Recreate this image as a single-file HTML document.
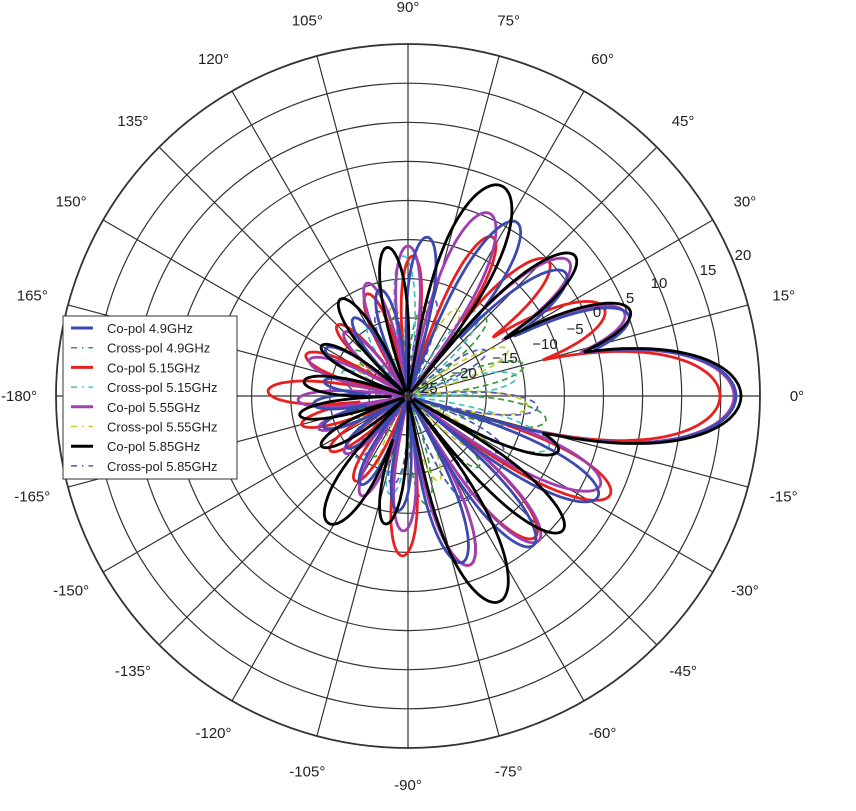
<!DOCTYPE html>
<html><head><meta charset="utf-8">
<style>
html,body{margin:0;padding:0;background:#fff;}
svg{display:block;font-family:"Liberation Sans","DejaVu Sans",sans-serif;}
</style></head>
<body>
<svg id="s" width="856" height="811" viewBox="0 0 856 811" xmlns="http://www.w3.org/2000/svg">
<g id="grid" stroke="#333" stroke-width="1.2" fill="none"></g>
<g id="curves" fill="none"></g>
<g id="labels" font-size="15" fill="#222" text-anchor="middle"></g>
<g id="legend"></g>
</svg>
<script>
var NS="http://www.w3.org/2000/svg",cx=408,cy=396,R=352;
function el(t,a,p){var e=document.createElementNS(NS,t);for(var k in a)e.setAttribute(k,a[k]);p.appendChild(e);return e;}
var g=document.getElementById('grid');
for(var k=1;k<=9;k++)el('circle',{cx:cx,cy:cy,r:39.1*k},g);
el('circle',{cx:cx,cy:cy,r:R,'stroke-width':1.8},g);
for(var a=0;a<180;a+=15){var t=a*Math.PI/180;el('line',{x1:cx-R*Math.cos(t),y1:cy+R*Math.sin(t),x2:cx+R*Math.cos(t),y2:cy-R*Math.sin(t)},g);}
var L=document.getElementById('labels');
for(var a=-165;a<=180;a+=15){var t=a*Math.PI/180;var x=cx+389*Math.cos(t),y=cy-389*Math.sin(t)+5;var e=el('text',{x:x,y:y},L);e.textContent=(a==180?'-180':a)+'°';}
var rl=[[-25,425,393],[-20,464,378],[-15,505,363],[-10,545,349],[-5,575,334],[0,597,317],[5,630,303],[10,659,288],[15,708,275],[20,743,260]];
rl.forEach(function(r){var e=el('text',{x:r[1],y:r[2]},L);e.textContent=r[0]<0?'\u2212'+(-r[0]):r[0];});
function curve(lobes,color,w,dash,ex){var d='';for(var i=0;i<=720;i++){var th=i/2-180;var r=6;lobes.forEach(function(l){var dd=th-l[0];while(dd>180)dd-=360;while(dd<-180)dd+=360;var W=l[2]*1.2;if(Math.abs(dd)<W){var v=l[1]*Math.pow(Math.cos(Math.PI/2*dd/W),ex);if(v>r)r=v;}});
var t=th*Math.PI/180;d+=(i?'L':'M')+(cx+r*Math.cos(t)).toFixed(1)+' '+(cy-r*Math.sin(t)).toFixed(1);}
var p=el('path',{d:d,stroke:color,'stroke-width':w},document.getElementById('curves'));if(dash)p.setAttribute('stroke-dasharray',dash);}
var Cs=[
['#3a4ab0',[[0,328,14],[20,235,9],[38,200,9],[58,205,9],[83,160,8],[105,110,8],[125,95,8],[150,95,8],[170,85,7],[-175,95,7],[-160,90,7],[-140,80,8],[-118,100,8],[-95,115,8],[-72,175,9],[-50,195,9],[-28,215,9]],2.5,null],
['#e82020',[[0,312,14],[24,215,10],[44,195,9],[62,180,8],[88,140,7],[112,110,8],[135,100,8],[158,110,8],[178,140,8],[-165,110,7],[-145,95,8],[-122,100,8],[-92,160,8],[-70,180,9],[-48,190,9],[-26,225,9]],2.5,null],
['#a040b0',[[0,326,14],[21,232,9],[40,210,9],[66,200,10],[90,150,8],[110,120,8],[135,90,8],[160,105,8],[-178,110,7],[-160,95,7],[-138,85,8],[-115,110,8],[-92,135,8],[-70,180,9],[-48,195,9],[-25,212,9]],2.5,null],
['#000000',[[0,333,14],[21,238,9],[40,218,9],[66,230,12],[98,150,8],[125,118,9],[150,100,8],[172,105,8],[-170,110,7],[-150,100,8],[-122,150,11],[-100,130,8],[-66,225,11],[-41,205,9],[-20,160,8]],2.5,null],
['#3a9a3a',[[-10,140,10],[15,120,9],[45,110,9],[80,90,8],[100,80,8],[140,70,9],[-45,100,9],[-80,110,9],[-120,70,9],[-160,60,9]],1.4,'6,4'],
['#40c0c0',[[-20,150,10],[10,110,9],[50,110,9],[92,140,8],[120,80,8],[160,70,9],[-60,120,9],[-100,100,9],[-140,70,9]],1.4,'6,4'],
['#c8c830',[[-5,120,10],[25,110,9],[60,100,9],[100,90,9],[150,60,9],[-35,100,9],[-70,90,9],[-110,80,9],[-150,60,9]],1.4,'6,4'],
['#5555bb',[[-5,130,9],[30,90,9],[75,100,9],[110,90,9],[170,60,9],[-30,110,9],[-60,120,9],[-100,90,9],[-130,80,9]],1.4,'6,4']
];
[4,5,6,7,1,2,0,3].forEach(function(i){var c=Cs[i];curve(c[1],c[0],c[2]+0.3,c[3],c[3]?0.6:0.45);});
var lg=document.getElementById('legend');
el('rect',{x:63,y:316,width:174,height:163,fill:'#fff',stroke:'#333','stroke-width':1},lg);
var names=['Co-pol 4.9GHz','Cross-pol 4.9GHz','Co-pol 5.15GHz','Cross-pol 5.15GHz','Co-pol 5.55GHz','Cross-pol 5.55GHz','Co-pol 5.85GHz','Cross-pol 5.85GHz'];
var cols=['#3a4ab0','#3a9a3a','#e82020','#40c0c0','#a040b0','#c8c830','#000000','#5555bb'];
for(var i=0;i<8;i++){var y=328+i*19.7;var solid=i%2==0;
el('line',{x1:71,y1:y,x2:93,y2:y,stroke:cols[i],'stroke-width':solid?3:1.5,'stroke-dasharray':solid?'none':'6,5,1.5,5'},lg);
var t=el('text',{x:107,y:y+5,'font-size':13,fill:'#222'},lg);t.textContent=names[i];}
</script>
</body></html>
